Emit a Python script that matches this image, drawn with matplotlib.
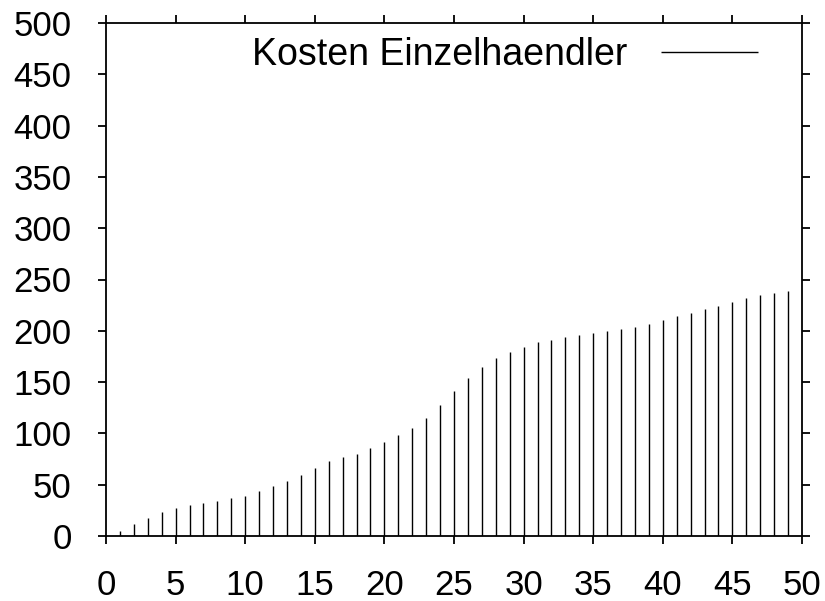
import numpy as np
import matplotlib
matplotlib.use("Agg")
import matplotlib.pyplot as plt

# =========================
# DATA
# =========================
tage = list(range(1, 50))
kosten = [5.2, 11.4, 17.5, 23.1, 27.3, 30.2, 32.2, 34.1, 36.7, 39.3,
          43.6, 48.4, 53.9, 59.7, 66.3, 73.1, 77.3, 80.0, 85.6, 91.5,
          98.3, 105.3, 115.1, 127.8, 141.4, 153.7, 164.5, 173.3, 179.7, 184.3,
          188.8, 191.4, 193.6, 195.6, 197.6, 199.8, 201.8, 204.0, 206.9, 210.5,
          214.1, 217.3, 220.9, 224.5, 228.1, 231.7, 234.6, 237.1, 239.1]
x_ticks = list(range(0, 51, 5))
y_ticks = list(range(0, 501, 50))

plt.rcParams['font.family'] = ['Liberation Sans', 'DejaVu Sans']

# =========================
# PLOT
# =========================
fig = plt.figure(figsize=(8.25, 6.01), dpi=100)
ax = fig.add_axes([106 / 825, 1 - 536 / 601, (802 - 106) / 825, (536 - 23) / 601])

ax.vlines(tage, 0, kosten, color='black', linewidth=1.0, label='Kosten Einzelhaendler')

ax.set_xlim(0, 50)
ax.set_ylim(0, 500)
ax.set_xticks(x_ticks)
ax.set_yticks(y_ticks)

for s in ax.spines.values():
    s.set_linewidth(1.3)

ax.tick_params(axis='both', which='both', direction='out', length=5.8, width=1.3,
               labelsize=25, top=True, right=True)
ax.tick_params(axis='x', pad=18)
ax.tick_params(axis='y', pad=19)

# legend: text, then line sample, sitting at the top right inside the box
ax.legend(loc='center right', bbox_to_anchor=(0.9368, 0.938), frameon=False,
          markerfirst=False, fontsize=27, handlelength=2.6, handletextpad=0.9,
          borderaxespad=0, borderpad=0)

fig.savefig("out.png", dpi=100)
